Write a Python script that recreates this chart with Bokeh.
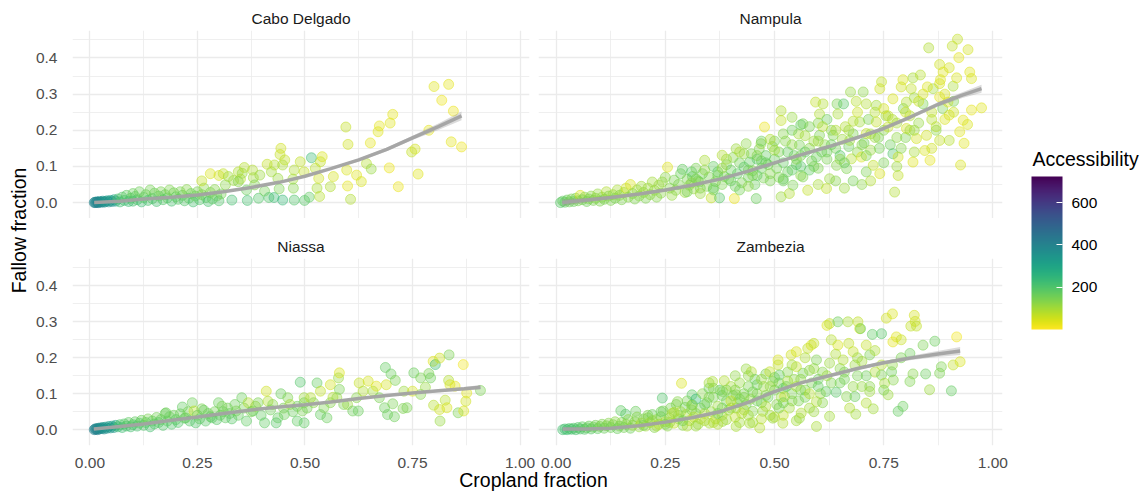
from math import pi
from bokeh.plotting import figure
from bokeh.layouts import row, column
from bokeh.models import (ColumnDataSource, Range1d, FixedTicker, LinearColorMapper,
                          ColorBar, Label, NumeralTickFormatter)
from bokeh.transform import transform
from bokeh.palettes import Viridis256
from bokeh.embed import file_html
from bokeh.resources import INLINE

# ---------------- data ----------------
panel_names = ["Cabo Delgado", "Nampula", "Niassa", "Zambezia"]
x_ticks = [0.0, 0.25, 0.5, 0.75, 1.0]
x_minor = [0.125, 0.375, 0.625, 0.875]
y_ticks = [0.0, 0.1, 0.2, 0.3, 0.4]
y_minor = [0.05, 0.15, 0.25, 0.35, 0.45]
acc_ticks = [200, 400, 600]
acc_low, acc_high = 0, 723

cd_x = [0.010,0.012,0.014,0.016,0.018,0.020,0.022,0.025,0.028,0.030,0.033,0.036,0.040,0.044,0.048,0.052,0.056,0.060,
        0.065,0.070,0.075,0.080,0.085,0.090,0.095,0.100,0.100,0.105,
        0.110,0.115,0.120,0.125,0.130,0.135,0.140,0.145,0.150,0.155,
        0.160,0.165,0.170,0.175,0.180,0.185,0.190,0.195,0.200,0.205,
        0.210,0.215,0.220,0.225,0.230,0.235,0.240,0.245,0.250,0.255,
        0.260,0.265,0.270,0.275,0.280,0.285,0.290,0.295,0.300,0.305,
        0.260,0.280,0.300,0.310,0.350,
        0.315,0.322,0.330,0.334,0.345,0.345,0.354,0.359,0.364,0.366,
        0.378,0.380,0.383,0.392,0.395,0.406,0.412,0.416,0.422,0.428,
        0.429,0.437,0.440,0.442,0.444,0.448,0.448,0.453,0.472,0.473,
        0.475,0.475,0.489,0.498,0.499,0.510,0.515,0.524,0.528,0.532,
        0.534,0.536,0.540,0.559,0.566,0.597,0.599,0.595,0.600,0.606,
        0.620,0.631,0.643,0.652,0.654,0.670,0.673,0.696,0.698,0.704,
        0.717,0.748,0.756,0.763,0.788,0.800,0.818,0.834,0.845,0.840,0.864]
cd_y = [0.000,0.001,0.000,0.002,0.001,0.000,0.003,0.001,0.002,0.004,0.001,0.003,0.005,0.002,0.006,0.003,0.008,0.004,
        0.010,0.002,0.015,0.006,0.020,0.003,0.012,0.025,0.004,0.017,
        0.008,0.030,0.002,0.014,0.022,0.006,0.035,0.011,0.026,0.003,
        0.018,0.030,0.008,0.022,0.013,0.035,0.004,0.027,0.016,0.009,
        0.030,0.020,0.005,0.036,0.012,0.025,0.002,0.018,0.030,0.008,
        0.022,0.040,0.014,0.003,0.028,0.010,0.036,0.018,0.005,0.024,
        0.060,0.080,0.075,0.080,0.065,
        0.049,0.072,0.007,0.061,0.085,0.058,0.081,0.097,0.035,0.006,
        0.090,0.069,0.049,0.012,0.076,0.032,0.106,0.014,0.085,0.014,
        0.104,0.067,0.038,0.133,0.150,0.104,0.007,0.118,0.065,0.040,
        0.090,0.007,0.113,0.085,0.006,0.015,0.124,0.095,0.040,0.067,
        0.017,0.113,0.127,0.044,0.072,0.090,0.046,0.209,0.161,0.009,
        0.076,0.058,0.108,0.165,0.093,0.196,0.212,0.096,0.220,0.244,
        0.044,0.140,0.148,0.079,0.200,0.321,0.283,0.327,0.253,0.168,0.154]
cd_acc = [400,380,410,370,390,420,360,395,375,350,385,340,330,365,320,355,300,345,
          210,225,195,215,180,230,190,165,215,180,
          200,160,225,175,165,210,150,190,160,215,
          175,145,195,165,180,140,210,150,175,190,
          145,165,200,130,180,160,215,165,145,195,
          150,125,175,210,145,180,130,160,200,150,
          65,45,50,70,80,
          125,100,215,110,85,130,115,80,165,215,
          85,100,140,195,110,150,65,200,100,230,
          80,110,145,65,55,95,240,70,100,130,
          85,200,70,65,190,180,230,80,95,55,
          80,65,45,85,50,45,30,65,55,85,
          35,45,80,30,115,35,30,20,35,30,
          20,65,50,35,30,35,20,30,20,30,20]

np_x = [0.010,0.015,0.020,0.025,0.030,0.035,0.040,0.045,0.050,0.055,
        0.060,0.065,0.070,0.075,0.080,0.085,0.090,0.095,0.100,0.105,
        0.110,0.115,0.120,0.125,0.130,0.135,0.140,0.145,0.150,0.155,
        0.160,0.165,0.170,0.175,0.180,0.185,0.190,0.195,0.200,0.205,
        0.210,0.215,0.220,0.225,0.230,0.235,0.240,0.243,0.250,0.255,
        0.260,0.265,0.270,0.274,0.280,0.285,0.289,0.295,0.300,0.305,
        0.310,0.312,0.315,0.320,0.325,0.328,0.335,0.340,0.345,0.350,
        0.355,0.360,0.365,0.370,0.374,0.380,0.385,0.390,0.395,0.400,
        0.405,0.408,0.412,0.415,0.420,0.425,0.430,0.435,0.440,0.443,
        0.447,0.450,0.455,0.458,0.460,0.465,0.469,0.470,0.475,0.477,
        0.480,0.485,0.490,0.495,0.500,0.505,0.510,0.515,0.515,0.515,
        0.520,0.525,0.530,0.534,0.540,0.542,0.545,0.550,0.555,0.557,
        0.560,0.565,0.565,0.570,0.576,0.580,0.585,0.590,0.594,0.596,
        0.600,0.603,0.603,0.608,0.611,0.615,0.619,0.620,0.626,0.630,
        0.634,0.640,0.642,0.643,0.645,0.650,0.655,0.658,0.662,0.665,
        0.670,0.672,0.674,0.676,0.680,0.687,0.690,0.695,0.699,0.703,
        0.705,0.710,0.710,0.710,0.715,0.720,0.726,0.730,0.733,0.733,
        0.738,0.741,0.741,0.745,0.750,0.755,0.760,0.765,0.771,0.771,
        0.775,0.780,0.783,0.783,0.790,0.794,0.795,0.800,0.802,0.802,
        0.810,0.813,0.817,0.817,0.820,0.825,0.830,0.834,0.840,0.844,
        0.848,0.853,0.856,0.860,0.863,0.870,0.878,0.878,0.878,0.878,
        0.885,0.886,0.890,0.897,0.900,0.900,0.900,0.907,0.909,0.910,
        0.917,0.919,0.922,0.924,0.926,0.932,0.934,0.942,0.943,0.947,
        0.951,0.951,0.974,0.470,0.500,0.520,0.540,0.560,0.580,0.600,
        0.620,0.600,0.640,0.680,0.700,0.660,0.720,0.750,0.780,0.820,
        0.860,0.330,0.360,0.380,0.420,0.440,0.460,0.490,0.520,0.540,0.560,
        0.300,0.320,0.340,0.360,0.380,0.400,0.420,0.440,0.460,0.480,
        0.500,0.520,0.540,0.560,0.580,0.600,0.620,0.640,0.660,0.680,
        0.700,0.720,0.740,0.760,0.780,0.800,0.820,0.840,0.860,0.880,
        0.310,0.330,0.370,0.390,0.410,0.430,0.450,0.470,0.490,0.510,
        0.530,0.550,0.570,0.590,0.610,0.630,0.650,0.670,0.690,0.710,
        0.730,0.750,0.770,0.790,0.810,0.830,0.850,0.870,0.890,0.910]
np_y = [0.000,0.004,0.001,0.007,0.002,0.010,0.003,0.012,0.005,0.020,
        0.008,0.015,0.003,0.010,0.018,0.006,0.012,0.024,0.004,0.015,
        0.009,0.030,0.018,0.006,0.022,0.012,0.035,0.020,0.008,0.028,
        0.040,0.015,0.050,0.025,0.010,0.035,0.018,0.045,0.028,0.012,
        0.040,0.022,0.057,0.034,0.015,0.048,0.026,0.057,0.070,0.098,
        0.040,0.020,0.062,0.034,0.050,0.080,0.092,0.028,0.065,0.048,
        0.085,0.072,0.038,0.095,0.060,0.057,0.080,0.117,0.045,0.071,
        0.013,0.100,0.058,0.085,0.013,0.131,0.072,0.105,0.066,0.090,
        0.125,0.011,0.149,0.080,0.110,0.055,0.098,0.163,0.070,0.112,
        0.135,0.088,0.050,0.011,0.120,0.148,0.163,0.095,0.068,0.209,
        0.130,0.105,0.080,0.155,0.120,0.095,0.140,0.254,0.227,0.016,
        0.110,0.170,0.085,0.025,0.236,0.048,0.130,0.105,0.190,0.159,
        0.075,0.218,0.071,0.140,0.034,0.150,0.115,0.170,0.278,0.126,
        0.095,0.245,0.186,0.140,0.273,0.160,0.039,0.120,0.066,0.200,
        0.186,0.150,0.103,0.273,0.245,0.130,0.175,0.273,0.210,0.094,
        0.155,0.172,0.306,0.121,0.190,0.280,0.140,0.223,0.126,0.306,
        0.165,0.273,0.191,0.085,0.230,0.145,0.103,0.250,0.269,0.223,
        0.180,0.315,0.080,0.334,0.200,0.240,0.209,0.160,0.287,0.135,
        0.029,0.220,0.126,0.075,0.320,0.340,0.260,0.180,0.278,0.205,
        0.240,0.315,0.345,0.112,0.290,0.177,0.220,0.353,0.273,0.144,
        0.186,0.428,0.117,0.250,0.315,0.200,0.382,0.329,0.292,0.172,
        0.260,0.361,0.230,0.278,0.373,0.242,0.172,0.433,0.322,0.280,
        0.345,0.452,0.401,0.196,0.104,0.228,0.164,0.216,0.423,0.361,
        0.343,0.256,0.262,0.170,0.170,0.190,0.200,0.215,0.210,0.220,
        0.230,0.050,0.060,0.060,0.050,0.040,0.060,0.110,0.100,0.140,
        0.150,0.040,0.035,0.050,0.035,0.045,0.075,0.060,0.065,0.090,0.100,
        0.030,0.065,0.090,0.040,0.095,0.060,0.140,0.090,0.130,0.110,
        0.145,0.060,0.160,0.130,0.090,0.170,0.140,0.200,0.110,0.225,
        0.160,0.190,0.150,0.240,0.180,0.250,0.200,0.300,0.230,0.340,
        0.055,0.025,0.075,0.120,0.045,0.135,0.075,0.115,0.175,0.070,
        0.140,0.120,0.185,0.100,0.210,0.160,0.120,0.200,0.250,0.130,
        0.180,0.260,0.230,0.150,0.200,0.280,0.320,0.210,0.300,0.250]
np_acc = [190,175,180,165,160,145,165,140,150,45,
          145,130,160,140,125,145,130,115,140,125,
          145,85,130,140,115,145,95,125,140,110,
          55,130,45,125,140,110,130,100,115,140,
          110,125,100,115,130,110,125,115,125,35,
          130,115,145,125,140,160,175,110,145,125,
          190,165,115,145,150,140,160,95,130,145,
          65,175,145,180,190,85,160,145,140,165,
          130,20,110,180,150,145,190,125,160,175,
          145,140,165,165,190,140,115,160,145,20,
          175,150,130,125,165,150,145,85,70,110,
          175,130,160,85,115,145,165,175,100,145,
          125,145,140,180,70,130,150,110,70,165,
          140,85,145,160,85,125,70,145,110,130,
          140,150,130,145,95,190,110,190,85,140,
          165,100,115,80,145,80,125,100,45,125,
          160,85,65,145,145,110,70,80,100,70,
          145,55,45,70,130,110,65,160,45,200,
          85,95,50,70,55,45,145,140,80,50,
          85,70,95,35,100,50,115,80,145,45,
          55,85,30,70,100,125,55,45,30,65,
          145,35,45,30,50,45,80,70,95,145,
          45,65,30,35,45,30,35,45,50,35,
          45,30,35,160,145,130,160,175,145,130,
          165,95,130,150,125,110,85,145,110,95,
          55,145,160,140,150,125,175,145,165,180,190,
          150,140,120,160,110,170,90,150,130,170,
          100,160,120,150,180,110,160,90,170,80,
          130,100,150,70,120,60,110,50,80,40,
          130,110,150,100,160,120,140,160,90,140,
          170,130,100,150,80,160,120,100,60,140,
          110,50,90,130,100,60,40,80,50,60]

ns_x = [0.010,0.012,0.014,0.016,0.018,0.020,0.022,0.025,0.028,0.030,0.033,0.036,0.040,0.044,0.048,0.052,0.056,0.060,
        0.065,0.070,0.075,0.080,0.085,0.090,0.095,0.100,0.105,0.110,
        0.115,0.120,0.125,0.130,0.135,0.140,0.145,0.150,0.155,0.160,
        0.165,0.170,0.175,0.177,0.180,0.185,0.190,0.195,0.200,0.205,
        0.210,0.215,0.220,0.223,0.228,0.232,0.238,0.242,0.246,0.250,
        0.255,0.260,0.265,0.269,0.275,0.280,0.284,0.290,0.295,0.299,
        0.303,0.307,0.310,0.315,0.320,0.325,0.330,0.337,0.340,0.345,
        0.353,0.358,0.364,0.368,0.375,0.379,0.385,0.391,0.398,0.406,
        0.410,0.414,0.420,0.425,0.433,0.437,0.444,0.450,0.452,0.460,
        0.465,0.472,0.482,0.482,0.489,0.494,0.498,0.498,0.498,0.505,
        0.513,0.520,0.528,0.536,0.536,0.544,0.551,0.559,0.559,0.565,
        0.574,0.578,0.580,0.580,0.590,0.599,0.611,0.620,0.624,0.626,
        0.635,0.647,0.658,0.666,0.673,0.685,0.687,0.689,0.692,0.700,
        0.704,0.708,0.710,0.728,0.730,0.737,0.750,0.753,0.769,0.769,
        0.780,0.788,0.792,0.798,0.799,0.803,0.813,0.813,0.814,0.826,
        0.830,0.834,0.835,0.837,0.849,0.856,0.868,0.869,0.874,0.876,0.908]
ns_y = [0.000,0.002,0.001,0.003,0.000,0.004,0.002,0.005,0.003,0.006,0.002,0.007,0.004,0.009,0.005,0.010,0.006,0.012,
        0.008,0.014,0.006,0.016,0.010,0.020,0.008,0.014,0.022,0.010,
        0.018,0.026,0.012,0.020,0.030,0.008,0.024,0.016,0.034,0.020,
        0.028,0.012,0.045,0.047,0.024,0.036,0.015,0.040,0.028,0.020,
        0.044,0.063,0.032,0.033,0.050,0.024,0.075,0.052,0.019,0.040,
        0.030,0.058,0.054,0.024,0.045,0.036,0.033,0.050,0.028,0.075,
        0.040,0.065,0.050,0.033,0.060,0.045,0.030,0.070,0.052,0.040,
        0.089,0.060,0.024,0.075,0.050,0.052,0.065,0.075,0.040,0.019,
        0.107,0.079,0.055,0.070,0.019,0.033,0.100,0.060,0.042,0.089,
        0.070,0.050,0.065,0.024,0.132,0.052,0.089,0.075,0.019,0.060,
        0.089,0.075,0.130,0.107,0.042,0.061,0.033,0.125,0.075,0.090,
        0.089,0.144,0.158,0.112,0.070,0.070,0.052,0.089,0.052,0.130,
        0.107,0.135,0.107,0.121,0.089,0.061,0.173,0.125,0.042,0.155,
        0.072,0.036,0.137,0.059,0.107,0.061,0.107,0.158,0.144,0.098,
        0.118,0.156,0.144,0.190,0.068,0.181,0.199,0.056,0.024,0.082,
        0.061,0.137,0.208,0.125,0.121,0.047,0.181,0.052,0.079,0.102,0.109]
ns_acc = [410,400,390,380,420,370,390,360,380,350,370,340,360,330,350,320,340,300,
          230,200,225,195,210,180,215,195,175,210,
          190,165,200,180,145,215,175,195,150,190,
          165,200,165,160,180,165,200,160,180,195,
          160,175,175,165,150,190,160,70,195,165,
          180,145,165,190,160,175,180,150,190,165,
          175,145,160,180,150,165,190,160,145,175,
          165,150,180,85,145,165,110,145,175,180,
          55,85,160,130,190,175,165,145,160,140,
          100,165,160,180,195,145,110,145,180,150,
          80,130,175,70,175,140,165,50,130,85,
          115,115,45,145,145,110,160,130,165,65,
          85,50,100,35,145,160,175,50,165,165,
          145,160,145,140,110,145,50,165,145,130,
          115,145,160,35,80,230,55,55,115,80,
          45,85,145,45,30,145,15,45,55,35,145]

zb_x = [0.015,0.020,0.025,0.030,0.035,0.040,0.045,0.050,0.055,0.060,
        0.065,0.070,0.075,0.080,0.085,0.090,0.095,0.100,0.105,0.110,
        0.115,0.120,0.125,0.130,0.135,0.140,0.145,0.148,0.150,0.155,
        0.159,0.160,0.165,0.170,0.175,0.180,0.182,0.185,0.190,0.195,
        0.200,0.205,0.210,0.215,0.220,0.225,0.230,0.235,0.240,0.243,
        0.245,0.250,0.255,0.259,0.262,0.265,0.270,0.275,0.278,0.280,
        0.285,0.287,0.290,0.295,0.297,0.300,0.305,0.310,0.311,0.312,
        0.315,0.320,0.325,0.330,0.335,0.340,0.345,0.350,0.351,0.355,
        0.358,0.360,0.365,0.370,0.375,0.380,0.381,0.381,0.385,0.390,
        0.395,0.400,0.405,0.410,0.412,0.412,0.412,0.415,0.420,0.425,
        0.430,0.435,0.435,0.440,0.443,0.445,0.447,0.450,0.455,0.460,
        0.466,0.470,0.473,0.475,0.480,0.485,0.489,0.490,0.496,0.496,
        0.500,0.505,0.508,0.508,0.510,0.511,0.515,0.519,0.520,0.523,
        0.527,0.530,0.534,0.538,0.540,0.545,0.550,0.550,0.555,0.557,
        0.561,0.565,0.570,0.576,0.580,0.584,0.585,0.590,0.596,0.596,
        0.596,0.600,0.605,0.610,0.618,0.620,0.626,0.626,0.626,0.630,
        0.641,0.645,0.645,0.650,0.657,0.660,0.665,0.668,0.672,0.680,
        0.684,0.684,0.686,0.690,0.691,0.695,0.697,0.700,0.710,0.710,
        0.718,0.718,0.718,0.724,0.726,0.730,0.745,0.745,0.745,0.752,
        0.756,0.760,0.768,0.770,0.771,0.772,0.779,0.783,0.790,0.794,
        0.810,0.810,0.812,0.817,0.820,0.822,0.825,0.840,0.846,0.855,
        0.867,0.878,0.882,0.905,0.909,0.917,0.925,
        0.200,0.220,0.240,0.260,0.280,0.300,0.320,0.340,0.360,0.380,
        0.400,0.420,0.440,0.460,0.480,0.500,0.520,0.540,0.560,0.580,
        0.210,0.230,0.250,0.270,0.290,0.310,0.330,0.350,0.370,0.390,
        0.410,0.430,0.450,0.470,0.490,0.510,0.530,0.550,0.570,0.590,
        0.320,0.340,0.360,0.380,0.400,0.420,0.440,0.460,0.480,0.500,
        0.520,0.540,0.560,0.580,0.600,0.620,0.640,0.660,0.680,0.700,
        0.610,0.630,0.650,0.670,0.690,0.710,0.730,0.750,0.770,0.790,
        0.550,0.570,0.590,0.470,0.450,0.430,0.410,0.390,0.370,0.350]
zb_y = [0.000,0.002,0.000,0.003,0.001,0.004,0.000,0.006,0.002,0.008,
        0.001,0.005,0.010,0.002,0.007,0.012,0.003,0.009,0.015,0.004,
        0.011,0.018,0.006,0.014,0.022,0.003,0.010,0.053,0.020,0.006,
        0.043,0.015,0.028,0.004,0.012,0.022,0.051,0.035,0.008,0.018,
        0.030,0.010,0.040,0.020,0.042,0.006,0.028,0.015,0.036,0.088,
        0.052,0.022,0.010,0.032,0.060,0.045,0.018,0.070,0.078,0.030,
        0.050,0.129,0.012,0.062,0.042,0.080,0.025,0.055,0.097,0.069,
        0.035,0.085,0.015,0.060,0.100,0.045,0.075,0.115,0.018,0.050,
        0.134,0.090,0.030,0.065,0.110,0.040,0.106,0.023,0.136,0.080,
        0.055,0.120,0.095,0.035,0.097,0.060,0.009,0.075,0.130,0.045,
        0.100,0.169,0.070,0.120,0.018,0.085,0.161,0.051,0.140,0.100,
        0.005,0.075,0.051,0.120,0.155,0.090,0.161,0.040,0.134,0.032,
        0.110,0.070,0.194,0.180,0.130,0.152,0.090,0.018,0.115,0.092,
        0.120,0.160,0.060,0.208,0.100,0.140,0.217,0.120,0.080,0.032,
        0.046,0.157,0.110,0.226,0.060,0.235,0.130,0.170,0.194,0.078,
        0.009,0.140,0.100,0.160,0.106,0.290,0.295,0.185,0.037,0.130,
        0.104,0.300,0.235,0.170,0.194,0.140,0.092,0.300,0.060,0.217,
        0.180,0.092,0.043,0.150,0.300,0.281,0.281,0.120,0.235,0.074,
        0.208,0.120,0.106,0.265,0.058,0.160,0.267,0.180,0.152,0.129,
        0.310,0.097,0.161,0.322,0.244,0.138,0.258,0.051,0.200,0.065,
        0.212,0.134,0.288,0.155,0.318,0.301,0.288,0.235,0.155,0.111,
        0.246,0.157,0.175,0.108,0.180,0.258,0.189,
        0.012,0.025,0.050,0.020,0.040,0.010,0.045,0.070,0.020,0.095,
        0.060,0.085,0.040,0.125,0.065,0.145,0.040,0.080,0.110,0.165,
        0.033,0.010,0.015,0.048,0.025,0.068,0.030,0.090,0.045,0.028,
        0.110,0.055,0.105,0.030,0.120,0.060,0.135,0.175,0.090,0.050,
        0.010,0.025,0.115,0.060,0.080,0.020,0.150,0.080,0.095,0.035,
        0.075,0.180,0.140,0.100,0.120,0.150,0.210,0.160,0.120,0.190,
        0.075,0.250,0.130,0.240,0.200,0.150,0.220,0.110,0.180,0.250,
        0.025,0.200,0.240,0.140,0.020,0.090,0.150,0.110,0.015,0.130]
zb_acc = [215,210,225,200,215,195,210,190,200,180,
          195,175,165,190,160,150,180,145,140,165,
          145,130,160,140,125,165,145,180,130,150,
          190,140,125,160,110,145,165,130,115,85,
          145,100,140,70,165,130,115,65,145,200,
          150,85,125,140,145,95,70,145,130,115,
          80,45,125,160,100,145,85,130,180,160,
          65,240,110,145,125,80,140,165,100,115,
          95,145,80,110,175,85,140,110,85,150,
          115,100,160,70,130,110,95,150,115,85,
          145,115,165,140,95,110,85,130,165,125,
          80,140,115,110,145,165,65,100,115,110,
          150,130,45,70,145,175,115,85,165,65,
          180,130,100,55,145,125,45,95,140,115,
          85,150,130,70,100,45,145,115,140,85,
          95,160,110,130,175,45,70,110,100,140,
          190,160,45,125,85,150,130,95,85,65,
          110,165,100,145,70,45,160,115,65,85,
          145,130,110,180,100,85,190,85,145,95,
          55,110,160,45,30,130,35,175,145,165,
          160,140,70,130,50,55,70,145,165,110,
          165,145,140,175,70,15,45,
          150,120,160,100,140,90,130,170,80,150,
          110,140,100,160,90,150,70,130,140,120,
          130,100,140,90,150,120,80,140,160,100,
          130,90,150,80,120,140,100,70,150,110,
          110,90,130,150,70,100,120,160,130,90,
          150,100,120,80,170,110,90,140,120,100,
          130,80,150,70,110,160,90,140,120,60,
          100,90,70,110,100,140,120,130,90,100]

# smooth (loess) curves: x, fit, standard-error half width
cd_sx = [0.010,0.070,0.125,0.190,0.250,0.310,0.375,0.440,0.500,0.560,0.625,0.690,0.750,0.810,0.864]
cd_sy = [0.000,0.004,0.010,0.015,0.021,0.030,0.042,0.056,0.073,0.094,0.118,0.147,0.179,0.210,0.240]
cd_se = [0.004,0.002,0.002,0.002,0.002,0.002,0.003,0.003,0.003,0.003,0.004,0.005,0.006,0.009,0.012]
np_sx = [0.014,0.070,0.125,0.190,0.250,0.310,0.375,0.440,0.500,0.560,0.625,0.690,0.750,0.810,0.875,0.930,0.974]
np_sy = [0.000,0.007,0.014,0.024,0.035,0.048,0.065,0.087,0.110,0.132,0.155,0.180,0.205,0.236,0.272,0.297,0.315]
np_se = [0.010,0.006,0.004,0.004,0.004,0.004,0.004,0.004,0.004,0.004,0.004,0.004,0.004,0.005,0.006,0.008,0.011]
ns_sx = [0.009,0.070,0.125,0.190,0.250,0.310,0.375,0.440,0.500,0.560,0.625,0.690,0.750,0.810,0.870,0.908]
ns_sy = [0.002,0.009,0.016,0.026,0.035,0.045,0.055,0.063,0.069,0.077,0.087,0.095,0.102,0.108,0.114,0.118]
ns_se = [0.003,0.002,0.002,0.002,0.002,0.002,0.002,0.002,0.002,0.002,0.003,0.003,0.003,0.004,0.005,0.006]
zb_sx = [0.015,0.070,0.125,0.190,0.250,0.310,0.375,0.440,0.500,0.560,0.625,0.690,0.750,0.810,0.870,0.925]
zb_sy = [0.002,0.002,0.004,0.011,0.021,0.033,0.050,0.076,0.106,0.130,0.150,0.170,0.186,0.199,0.210,0.219]
zb_se = [0.004,0.003,0.003,0.003,0.003,0.003,0.004,0.004,0.004,0.004,0.004,0.004,0.005,0.006,0.008,0.011]

# ---------------- styling ----------------
FONT = "Liberation Sans"
GRID = "#EBEBEB"
mapper = LinearColorMapper(palette=list(reversed(Viridis256)), low=acc_low, high=acc_high)


def panel(title, xs, ys, acc, sx, sy, se, show_x, show_y, w, h, bl, br, bt, bb):
    p = figure(width=w, height=h, x_range=Range1d(-0.0405, 1.022), y_range=Range1d(-0.044, 0.476),
               output_backend="svg", toolbar_location=None, title=title,
               min_border_left=bl, min_border_right=br, min_border_top=bt, min_border_bottom=bb)
    p.outline_line_color = None
    p.background_fill_color = "white"
    p.border_fill_color = "white"
    p.title.align = "center"
    p.title.text_font = FONT
    p.title.text_font_size = "15.5px"
    p.title.text_font_style = "normal"
    p.title.text_color = "#1A1A1A"
    p.title.standoff = 7
    p.title.offset = 0

    xt = FixedTicker(ticks=x_ticks, minor_ticks=x_minor)
    yt = FixedTicker(ticks=y_ticks, minor_ticks=y_minor)
    p.xaxis.ticker = xt
    p.yaxis.ticker = yt
    p.xgrid.ticker = xt
    p.ygrid.ticker = yt
    p.xaxis.formatter = NumeralTickFormatter(format="0.00")
    p.yaxis.formatter = NumeralTickFormatter(format="0.0")
    for ax in (p.xaxis, p.yaxis):
        ax.axis_line_color = None
        ax.major_tick_line_color = None
        ax.minor_tick_line_color = None
        ax.major_label_text_font = FONT
        ax.major_label_text_font_size = "15.5px"
        ax.major_label_text_color = "#4D4D4D"
    p.xaxis.major_label_standoff = 6
    p.yaxis.major_label_standoff = 9
    p.xaxis.visible = show_x
    p.yaxis.visible = show_y
    for g in (p.xgrid, p.ygrid):
        g.grid_line_color = GRID
        g.grid_line_width = 1.3
        g.minor_grid_line_color = GRID
        g.minor_grid_line_width = 0.8

    src = ColumnDataSource(dict(x=xs, y=ys, acc=acc))
    p.scatter("x", "y", source=src, size=10,
              fill_color=transform("acc", mapper), line_color=transform("acc", mapper),
              fill_alpha=0.36, line_alpha=0.5, line_width=1)

    lo = [a - b for a, b in zip(sy, se)]
    hi = [a + b for a, b in zip(sy, se)]
    p.varea(x=sx, y1=lo, y2=hi, fill_color="#999999", fill_alpha=0.35)
    p.line(sx, sy, line_color="#A3A3A3", line_width=3.5, line_alpha=0.95)
    return p


tl = panel(panel_names[0], cd_x, cd_y, cd_acc, cd_sx, cd_sy, cd_se, False, True, 501, 218, 33, 4, 30, 0)
tr = panel(panel_names[1], np_x, np_y, np_acc, np_sx, np_sy, np_se, False, False, 477, 218, 5, 8, 30, 0)
bl_ = panel(panel_names[2], ns_x, ns_y, ns_acc, ns_sx, ns_sy, ns_se, True, True, 503, 252, 33, 6, 40, 24)
br_ = panel(panel_names[3], zb_x, zb_y, zb_acc, zb_sx, zb_sy, zb_se, True, False, 475, 252, 3, 8, 40, 24)


def blank(w, h):
    f = figure(width=w, height=h, x_range=Range1d(0, 1), y_range=Range1d(0, 1),
               output_backend="svg", toolbar_location=None, min_border=0)
    f.axis.visible = False
    f.grid.visible = False
    f.outline_line_color = None
    return f


TOTAL_H = 495

# y-axis title
ylab = blank(32, TOTAL_H)
ylab.add_layout(Label(x=18, y=TOTAL_H - 230, x_units="screen", y_units="screen", text="Fallow fraction",
                      angle=pi / 2, text_align="center", text_baseline="middle",
                      text_font=FONT, text_font_size="19.5px", text_color="black"))

# x-axis title
xlab = blank(978, 25)
xlab.add_layout(Label(x=501, y=16, x_units="screen", y_units="screen", text="Cropland fraction",
                      text_align="center", text_baseline="middle",
                      text_font=FONT, text_font_size="19.5px", text_color="black"))

# colour bar legend
leg = blank(132, TOTAL_H)
leg.add_layout(Label(x=22, y=TOTAL_H - 158, x_units="screen", y_units="screen", text="Accessibility",
                     text_align="left", text_baseline="middle",
                     text_font=FONT, text_font_size="19.5px", text_color="black"))
cb = ColorBar(color_mapper=mapper, ticker=FixedTicker(ticks=acc_ticks),
              width=31, height=153, location=(21, TOTAL_H - 329), padding=0,
              major_label_text_font=FONT, major_label_text_font_size="15.5px",
              major_label_text_color="black", label_standoff=9,
              major_tick_in=6, major_tick_out=0, major_tick_line_color="white",
              major_tick_line_width=1, bar_line_color=None,
              background_fill_alpha=0, border_line_color=None)
leg.add_layout(cb)

middle = column(row(tl, tr), row(bl_, br_), xlab)
layout = row(ylab, middle, leg)

open("out.html", "w").write(file_html(layout, INLINE))
